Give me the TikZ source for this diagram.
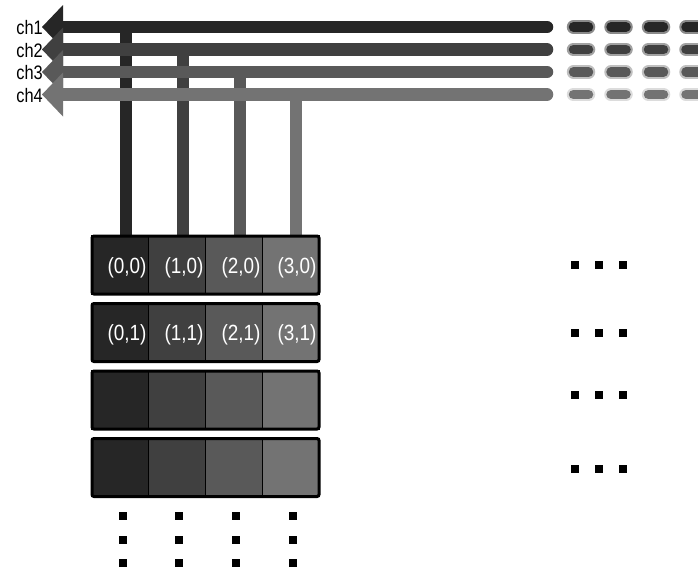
\documentclass[tikz,border=0pt]{standalone}
\usepackage{fontspec}
\setmainfont{Liberation Sans}
\definecolor{cA}{HTML}{262626}
\definecolor{cB}{HTML}{404040}
\definecolor{cC}{HTML}{595959}
\definecolor{cD}{HTML}{737373}
\definecolor{hA}{HTML}{8A8A8A}
\definecolor{hB}{HTML}{A2A2A2}
\definecolor{hC}{HTML}{C0C0C0}
\definecolor{hD}{HTML}{DCDCDC}
\tikzset{
  chline/.style={line width=12.5pt},
  vline/.style={line width=12pt},
  halo/.style={line width=13.5pt,line cap=round},
  core/.style={line width=9.5pt,line cap=round},
  cell/.style={draw=black,line width=1.2pt},
  rowframe/.style={draw=black,line width=3pt,rounded corners=2pt},
  celllabel/.style={text=white,inner sep=0pt,font=\fontsize{22}{22}\selectfont},
  chlabel/.style={inner sep=0pt,anchor=east,font=\fontsize{19.5}{19.5}\selectfont},
  dot/.style={fill=black,minimum size=8.5pt,inner sep=0pt,draw=none,rectangle}
}
\begin{document}
\begin{tikzpicture}[x=1pt,y=-1pt]
\useasboundingbox (0,0) rectangle (698,570);
% channel data: y, vertical x, color, halo
\def\chlist{1/27/126/cA/hA,2/49.5/183/cB/hB,3/72/240/cC/hC,4/94.5/296/cD/hD}
% vertical feeders
\foreach \i/\y/\x/\c/\h in \chlist {
  \coordinate (vt\i) at (\x,\y);
  \coordinate (vb\i) at (\x,236);
  \draw[vline,\c] (vt\i) -- (vb\i);
}
% horizontal channels with arrow heads
\foreach \i/\y/\x/\c/\h in \chlist {
  \coordinate (hs\i) at (63,\y);
  \coordinate (he\i) at (547,\y);
  \draw[chline,\c] (hs\i) -- (he\i);
  \draw[chline,\c,line cap=round] (he\i) -- ++(-0.5,0);
  \fill[\c] (42,\y) -- (63,\y-22) -- (63,\y+22) -- cycle;
  \node[chlabel] (lab\i) at (43,\y+1) {\scalebox{0.84}[1]{ch\i}};
  \foreach \k in {0,1,2,3} {
    \pgfmathsetmacro{\cx}{581+37.5*\k}
    \draw[halo,\h] (\cx-7.5,\y) -- (\cx+7.5,\y);
    \draw[core,\c] (\cx-7.5,\y) -- (\cx+7.5,\y);
  }
}
% rows of cells
\foreach \r/\t in {0/236,1/303.5,2/371,3/438.5} {
  \foreach \j/\c in {0/cA,1/cB,2/cC,3/cD} {
    \pgfmathsetmacro{\xa}{92+56.75*\j}
    \pgfmathsetmacro{\xb}{92+56.75*(\j+1)}
    \draw[cell,fill=\c] (\xa,\t) rectangle (\xb,\t+58);
  }
  \draw[rowframe] (92,\t) rectangle (319,\t+58);
}
% labels
\foreach \j/\x in {0/126,1/183,2/240,3/296} {
  \node[celllabel] (a\j) at (\x+1,268) {\scalebox{0.86}[1]{(\j,0)}};
  \node[celllabel] (b\j) at (\x+1,335) {\scalebox{0.86}[1]{(\j,1)}};
}
% vertical ellipsis dots
\foreach \x in {123,179,236,293} {
  \foreach \y in {516,540,563} {
    \node[dot] at (\x,\y) {};
  }
}
% horizontal ellipsis dots
\foreach \y in {265,333,395,469} {
  \foreach \x in {575,599,623} {
    \node[dot] at (\x,\y) {};
  }
}
\end{tikzpicture}
\end{document}
